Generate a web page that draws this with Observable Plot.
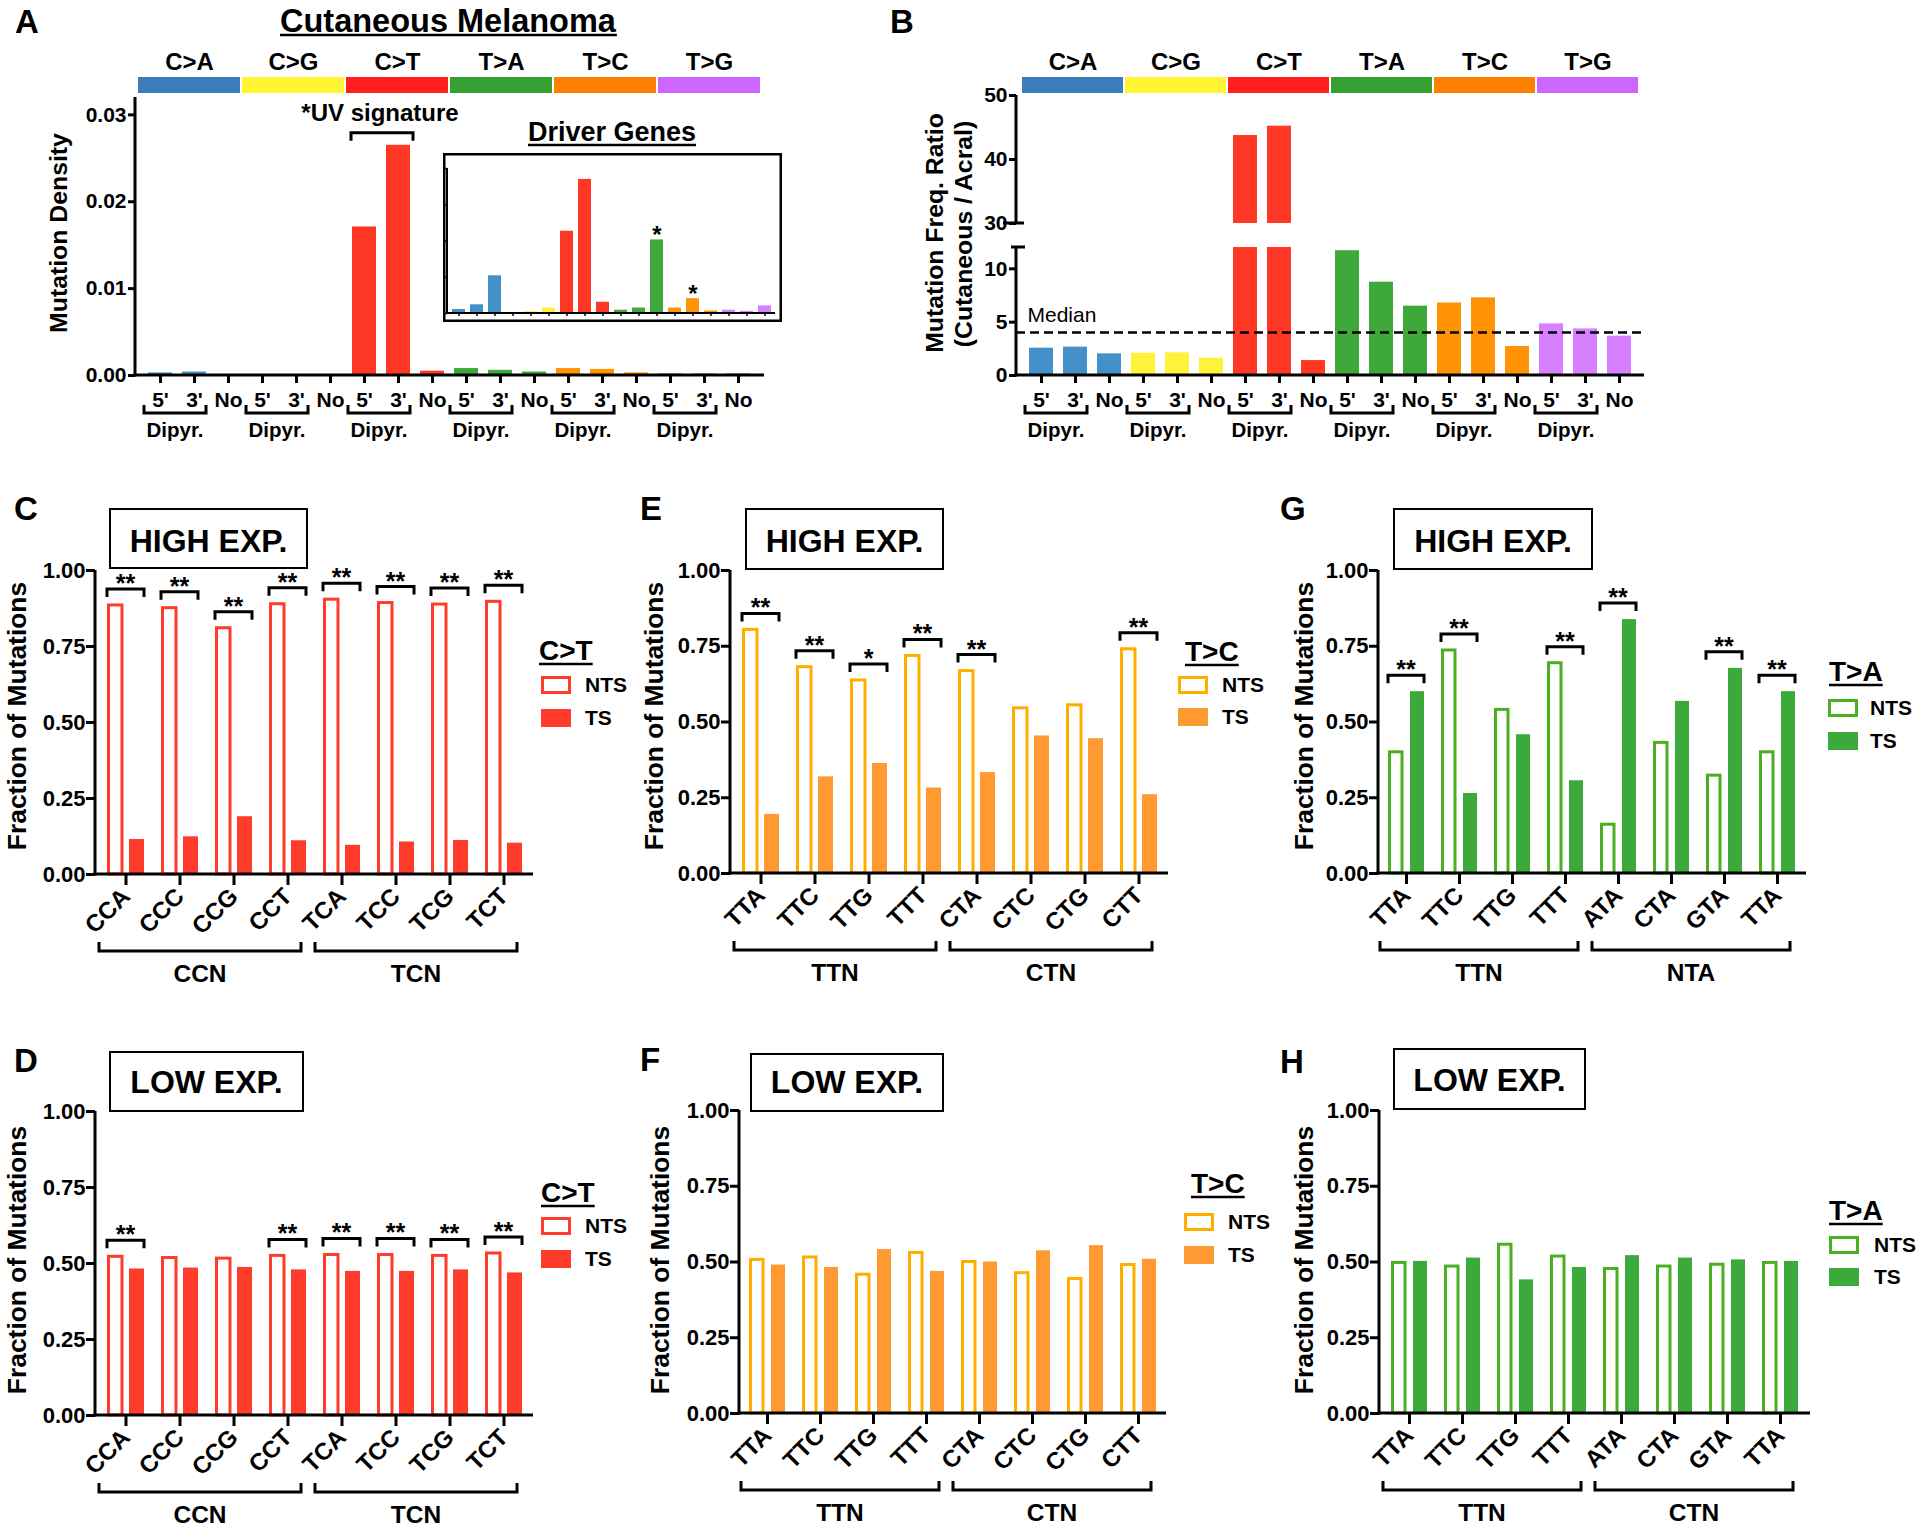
<!DOCTYPE html>
<html><head><meta charset="utf-8">
<script src="https://cdn.jsdelivr.net/npm/d3@7"></script>
<script src="https://cdn.jsdelivr.net/npm/@observablehq/plot@0.6"></script>
<style>
html,body{margin:0;padding:0;background:#fff;}
#fig{position:relative;width:1920px;height:1530px;overflow:hidden;background:#fff;}
</style></head><body><div id="fig"></div>
<script>
// ================= DATA =================
const mutTypes = ["C>A","C>G","C>T","T>A","T>C","T>G"];
const contexts = ["5'","3'","No"];
const bandColors = ["#3A7DB8","#FFF533","#FF1F1F","#36A032","#FF8000","#CC66FF"];
const barColors  = ["#4391C8","#FFF23A","#FF3826","#3EA83A","#FF9305","#D680FF"];
// Panel A: mutation density (5', 3', No for each type)
const densityA = [0.0003,0.0004,0.0001, 0.0001,0.0001,0.0001, 0.0171,0.0265,0.0005, 0.0008,0.0006,0.0004, 0.0008,0.0007,0.0003, 0.0002,0.0002,0.0002];
const densityTicks = [0, 0.01, 0.02, 0.03];
// Inset: driver genes (arbitrary units)
const driverA = [0.11,0.24,1.04, 0.0,0.05,0.15, 2.27,3.70,0.31, 0.09,0.15,2.03, 0.15,0.41,0.07, 0.09,0.06,0.21];
const driverSig = ["","","", "","","", "","","", "","","*", "","*","", "","",""];
const driverTicks = [0,1,2,3,4];
// Panel B: mutation freq ratio cutaneous/acral
const ratioB = [2.56,2.66,2.03, 2.09,2.12,1.62, 43.75,45.2,1.40, 11.7,8.75,6.5, 6.8,7.28,2.72, 4.84,4.37,3.69];
const ratioTicksLow = [0,5,10];
const ratioTicksHigh = [30,40,50];
const brkLow = 12, brkHigh = 30;

// Panels C-H
const fracTicks = [0,0.25,0.5,0.75,1];
const ctCats = ["CCA","CCC","CCG","CCT","TCA","TCC","TCG","TCT"];
const ctGroup = ["CCN","CCN","CCN","CCN","TCN","TCN","TCN","TCN"];
const tcCats = ["TTA","TTC","TTG","TTT","CTA","CTC","CTG","CTT"];
const tcGroup = ["TTN","TTN","TTN","TTN","CTN","CTN","CTN","CTN"];
const taCats = ["TTA","TTC","TTG","TTT","ATA","CTA","GTA","TTA"];
const taGroupG = ["TTN","TTN","TTN","TTN","NTA","NTA","NTA","NTA"];
const taGroupH = ["TTN","TTN","TTN","TTN","CTN","CTN","CTN","CTN"];

const ntsC = [0.885,0.876,0.810,0.889,0.904,0.893,0.888,0.897];
const tsC  = [0.115,0.124,0.190,0.111,0.096,0.107,0.112,0.103];
const sigC = ["**","**","**","**","**","**","**","**"];
const ntsD = [0.522,0.518,0.516,0.525,0.528,0.528,0.525,0.533];
const tsD  = [0.482,0.485,0.487,0.479,0.474,0.474,0.479,0.469];
const sigD = ["**","","","**","**","**","**","**"];
const ntsE = [0.804,0.681,0.637,0.718,0.668,0.545,0.555,0.740];
const tsE  = [0.195,0.319,0.363,0.282,0.333,0.454,0.445,0.260];
const sigE = ["**","**","*","**","**","","","**"];
const ntsF = [0.507,0.515,0.458,0.530,0.500,0.463,0.444,0.490];
const tsF  = [0.490,0.482,0.541,0.469,0.500,0.537,0.554,0.509];
const sigF = ["","","","","","","",""];
const ntsG = [0.400,0.736,0.540,0.694,0.161,0.431,0.323,0.400];
const tsG  = [0.600,0.264,0.458,0.306,0.838,0.568,0.677,0.600];
const sigG = ["**","**","","**","**","","**","**"];
const ntsH = [0.497,0.485,0.557,0.518,0.477,0.485,0.491,0.497];
const tsH  = [0.502,0.513,0.441,0.482,0.521,0.513,0.507,0.502];
const sigH = ["","","","","","","",""];

const ctCol = {nts:"#FF3B2B", ts:"#FF3B2B"};
const tcCol = {nts:"#FFAE00", ts:"#FF9A33"};
const taCol = {nts:"#4BB020", ts:"#3BAA3B"};

// ================= HELPERS =================
const FONT = '"Liberation Sans", Arial, Helvetica, sans-serif';
const fig = document.getElementById("fig");
const baseStyle = (size) => ({background:"transparent", overflow:"visible", fontFamily:FONT, fontSize:size+"px", fontWeight:"bold", color:"black", maxWidth:"none"});

function place(svg, left, top) {
  svg.style.position = "absolute";
  svg.style.left = left + "px";
  svg.style.top = top + "px";
  fig.appendChild(svg);
}
const deco = (fn) => (index, scales, values, dim) => { const g = d3.create("svg:g"); fn(g, scales, dim); return g.node(); };
function P(g, d, w = 3) { return g.append("path").attr("d", d).attr("fill","none").attr("stroke","black").attr("stroke-width", w); }
function T(g, s, x, y, size, anchor = "middle", weight = "bold") {
  return g.append("text").attr("x", x).attr("y", y).attr("font-size", size).attr("font-weight", weight)
    .attr("text-anchor", anchor).attr("fill","black").text(s);
}

// ================= PANEL A / B rows =================
const rowsA = mutTypes.flatMap((t, ti) => contexts.map((c, ci) => {
  const k = ti*3 + ci;
  return {id:k, type:t, ctx:c, v:densityA[k], drv:driverA[k], drvSig:driverSig[k], r:ratioB[k], color:barColors[ti]};
}));
const ids18 = rowsA.map(d => d.id);

function dipyr(g, x, y0) {
  const bw = x.bandwidth();
  mutTypes.forEach((t, ti) => {
    const a = x(ti*3) - 4, b = x(ti*3+1) + bw;
    P(g, `M${a},${y0+30}V${y0+38}H${b}V${y0+30}`);
    T(g, "Dipyr.", (a+b)/2, y0+62, 20.5);
  });
}

function bandPlot(left, width, mL, mR) {
  const bands = mutTypes.map((t, i) => ({t, c: bandColors[i]}));
  const svg = Plot.plot({
    width, height:53, marginLeft:mL, marginRight:mR, marginTop:37, marginBottom:0,
    style: baseStyle(24),
    x: {type:"band", domain: mutTypes, paddingInner:0.015, paddingOuter:0.03, axis:null},
    color: {type:"identity"},
    marks: [
      Plot.cell(bands, {x:"t", fill:"c"}),
      Plot.text(bands, {x:"t", text:"t", frameAnchor:"top", lineAnchor:"bottom", dy:-8})
    ]
  });
  place(svg, left, 40);
}

// ---- Panel A main ----
const svgA = Plot.plot({
  width:800, height:450, marginLeft:135, marginRight:36, marginTop:97, marginBottom:75,
  style: baseStyle(21),
  x: {type:"band", domain: ids18, paddingInner:0.28, paddingOuter:0.14, label:null},
  y: {domain:[0, 0.032], label:null},
  color: {type:"identity"},
  marks: [
    Plot.barY(rowsA, {x:"id", y:"v", fill:"color"}),
    Plot.axisY(densityTicks, {tickFormat: d3.format(".2f"), tickSize:7, tickPadding:2, strokeWidth:3, label:null}),
    Plot.axisX({tickFormat: i => contexts[i % 3], tickSize:8, tickPadding:9, strokeWidth:3, label:null}),
    deco((g, {x, y}, d) => {
      const y0 = y(0), L = d.marginLeft, R = d.width - d.marginRight, bw = x.bandwidth();
      P(g, `M${L},${y(y.domain()[1])}V${y0+1.5}`);
      P(g, `M${L-1.5},${y0}H${R}`);
      dipyr(g, x, y0);
      const uv = rowsA.filter(r => r.type === "C>T" && r.ctx !== "No");
      const a = x(uv[0].id) - 1, b = x(uv[1].id) + bw + 3, yb = y(d3.max(uv, r => r.v)) - 12;
      P(g, `M${a},${yb+8}V${yb}H${b}V${yb+8}`);
      T(g, "*UV signature", (a+b)/2 - 2, yb-12, 24);
    })
  ]
});
place(svgA, 0, 0);
bandPlot(0, 800, 135, 36);

// ---- Inset: Driver genes ----
const svgIn = Plot.plot({
  width:339, height:169, marginLeft:4, marginRight:7, marginTop:15, marginBottom:9,
  style: baseStyle(20),
  x: {type:"band", domain: ids18, paddingInner:0.29, paddingOuter:0.145, label:null},
  y: {domain:[0, 4], label:null},
  color: {type:"identity"},
  marks: [
    deco((g, s, d) => { g.append("rect").attr("x",1.25).attr("y",1.25).attr("width",d.width-2.5).attr("height",d.height-2.5).attr("fill","white").attr("stroke","black").attr("stroke-width",2.5); }),
    Plot.barY(rowsA, {x:"id", y:"drv", fill:"color"}),
    Plot.text(rowsA.filter(r => r.drvSig), {x:"id", y:"drv", text:"drvSig", lineAnchor:"bottom", dy:3, fontSize:24}),
    Plot.axisY(driverTicks, {tickFormat: () => "", tickSize:3, strokeWidth:1.5, label:null}),
    Plot.axisX({tickFormat: () => "", tickSize:3, strokeWidth:1.5, label:null}),
    deco((g, {x, y}, d) => {
      const y0 = y(0), L = d.marginLeft, R = d.width - d.marginRight;
      P(g, `M${L},${y(y.domain()[1])}V${y0+1}`, 2);
      P(g, `M${L-1},${y0}H${R}`, 2);
    })
  ]
});
place(svgIn, 443, 153);

// ---- Panel B ----
const medianB = d3.median(ratioB);
const svgBu = Plot.plot({
  width:780, height:150, marginLeft:136, marginRight:16, marginTop:15, marginBottom:7,
  style: baseStyle(21),
  x: {type:"band", domain: ids18, paddingInner:0.28, paddingOuter:0.14, axis:null},
  y: {domain:[brkHigh, 50], label:null},
  color: {type:"identity"},
  marks: [
    Plot.barY(rowsA.filter(d => d.r > brkHigh), {x:"id", y1:brkHigh, y2:"r", fill:"color"}),
    Plot.axisY(ratioTicksHigh, {tickSize:7, tickPadding:2, strokeWidth:3, label:null}),
    deco((g, {x, y}, d) => {
      const L = d.marginLeft;
      P(g, `M${L},${y(y.domain()[1])}V${y(brkHigh)}`);
      P(g, `M${L-13},${y(brkHigh)}H${L+8}`);
    })
  ]
});
place(svgBu, 880, 80);

const svgB = Plot.plot({
  width:780, height:230, marginLeft:136, marginRight:16, marginTop:17, marginBottom:85,
  style: baseStyle(21),
  x: {type:"band", domain: ids18, paddingInner:0.28, paddingOuter:0.14, label:null},
  y: {domain:[0, brkLow], label:null},
  color: {type:"identity"},
  marks: [
    Plot.barY(rowsA, {x:"id", y: d => Math.min(d.r, brkLow), fill:"color"}),
    Plot.ruleY([medianB], {stroke:"black", strokeWidth:2.5, strokeDasharray:"9,5"}),
    Plot.text([medianB], {y: d => d, text: () => "Median", frameAnchor:"left", textAnchor:"start", lineAnchor:"bottom", dx:11, dy:-11, fontSize:21, fontWeight:"normal"}),
    Plot.axisY(ratioTicksLow, {tickSize:7, tickPadding:2, strokeWidth:3, label:null}),
    Plot.axisX({tickFormat: i => contexts[i % 3], tickSize:8, tickPadding:9, strokeWidth:3, label:null}),
    deco((g, {x, y}, d) => {
      const y0 = y(0), L = d.marginLeft, R = d.width - d.marginRight;
      P(g, `M${L},${y(brkLow)}V${y0+1.5}`);
      P(g, `M${L-5},${y(brkLow)}H${L+9}`);
      P(g, `M${L-1.5},${y0}H${R}`);
      dipyr(g, x, y0);
    })
  ]
});
place(svgB, 880, 230);
bandPlot(880, 780, 136, 16);

// ---- Panels C-H ----
function strandPlot(cfg) {
  const {cats, group, nts, ts, sig, col, left, top, width, height, mL, mR, mT, mB} = cfg;
  const rows = cats.map((c, i) => ({id:i, cat:c, grp:group[i], nts:nts[i], ts:ts[i], sig:sig[i]}));
  const svg = Plot.plot({
    width, height, marginLeft:mL, marginRight:mR, marginTop:mT, marginBottom:mB,
    style: baseStyle(22),
    x: {type:"band", domain: rows.map(d => d.id), paddingInner:0.32, paddingOuter:0.16, label:null},
    y: {domain:[0, 1], label:null},
    marks: [
      Plot.barY(rows, {x:"id", y:"ts", fill: col.ts, insetLeft:22}),
      Plot.barY(rows, {x:"id", y:"nts", fill:"white", stroke: col.nts, strokeWidth:3, insetLeft:1.5, insetRight:22}),
      Plot.axisY(fracTicks, {tickFormat: d3.format(".2f"), tickSize:9, tickPadding:1, strokeWidth:3, label:null}),
      Plot.axisX({tickFormat: i => cats[i], tickRotate:-45, tickSize:11, tickPadding:7, fontSize:24, strokeWidth:3, label:null}),
      deco((g, {x, y}, d) => {
        const bw = x.bandwidth(), y0 = y(0), L = d.marginLeft, R = d.width - d.marginRight;
        P(g, `M${L},${y(1)}V${y0+1.5}`);
        P(g, `M${L-1.5},${y0}H${R}`);
        rows.filter(r => r.sig).forEach(r => {
          const a = x(r.id), b = a + bw, yb = y(Math.max(r.nts, r.ts)) - 16;
          P(g, `M${a},${yb+8}V${yb}H${b}V${yb+8}`);
          T(g, r.sig, (a+b)/2, yb+3, 25);
        });
        d3.groups(rows, r => r.grp).forEach(([name, rs]) => {
          const a = x(rs[0].id) - 8, b = x(rs[rs.length-1].id) + bw - 5, yb = y0 + 77;
          P(g, `M${a},${yb-9}V${yb}H${b}V${yb-9}`);
          T(g, name, (a+b)/2, y0+108, 24.5);
        });
      })
    ]
  });
  place(svg, left, top);
}
strandPlot({cats:ctCats, group:ctGroup, nts:ntsC, ts:tsC, sig:sigC, col:ctCol, left:0,    top:560,  width:640, height:440, mL:95, mR:107, mT:10, mB:126});
strandPlot({cats:ctCats, group:ctGroup, nts:ntsD, ts:tsD, sig:sigD, col:ctCol, left:0,    top:1100, width:640, height:430, mL:95, mR:107, mT:11, mB:115});
strandPlot({cats:tcCats, group:tcGroup, nts:ntsE, ts:tsE, sig:sigE, col:tcCol, left:640,  top:560,  width:640, height:440, mL:90, mR:112, mT:10, mB:127});
strandPlot({cats:tcCats, group:tcGroup, nts:ntsF, ts:tsF, sig:sigF, col:tcCol, left:640,  top:1100, width:640, height:430, mL:99, mR:114, mT:10, mB:117});
strandPlot({cats:taCats, group:taGroupG, nts:ntsG, ts:tsG, sig:sigG, col:taCol, left:1280, top:560,  width:640, height:440, mL:98, mR:114, mT:10, mB:127});
strandPlot({cats:taCats, group:taGroupH, nts:ntsH, ts:tsH, sig:sigH, col:taCol, left:1280, top:1100, width:640, height:430, mL:99, mR:110, mT:10, mB:117});

// ================= OVERLAY TEXT (titles, labels, legends) =================
const ov = d3.select(fig).append("svg").attr("width",1920).attr("height",1530)
  .style("position","absolute").style("left","0px").style("top","0px").style("font-family",FONT);
function OT(s, x, y, size, anchor = "start", weight = "bold") {
  return ov.append("text").attr("x",x).attr("y",y).attr("font-size",size).attr("font-weight",weight)
    .attr("text-anchor",anchor).attr("fill","black").text(s);
}
function UL(t, dy, w) {
  const bb = t.node().getBBox(), y = +t.attr("y") + dy;
  ov.append("line").attr("x1",bb.x).attr("x2",bb.x+bb.width).attr("y1",y).attr("y2",y).attr("stroke","black").attr("stroke-width",w);
}
function RT(s, bx, cy, size) {
  ov.append("text").attr("transform",`translate(${bx},${cy}) rotate(-90)`)
    .attr("text-anchor","middle").attr("font-size",size).attr("font-weight","bold").attr("fill","black").text(s);
}
function BOX(s, x1, y1, x2, y2, base) {
  ov.append("rect").attr("x",x1).attr("y",y1).attr("width",x2-x1).attr("height",y2-y1)
    .attr("fill","none").attr("stroke","black").attr("stroke-width",2);
  OT(s, (x1+x2)/2, base, 32, "middle");
}
function LEG(title, col, tx, tb, sx, nY, tY, lx) {
  const t = OT(title, tx, tb, 28);
  UL(t, 4, 2.5);
  ov.append("rect").attr("x",sx+1.5).attr("y",nY+1.5).attr("width",27).attr("height",15)
    .attr("fill","white").attr("stroke",col.nts).attr("stroke-width",3);
  ov.append("rect").attr("x",sx).attr("y",tY).attr("width",30).attr("height",18).attr("fill",col.ts);
  OT("NTS", lx, nY+16, 21);
  OT("TS", lx, tY+16, 21);
}

// panel letters
OT("A", 15, 33, 33); OT("B", 890, 33, 33);
OT("C", 14, 520, 33); OT("E", 640, 520, 33); OT("G", 1280, 520, 33);
OT("D", 14, 1072, 33); OT("F", 640, 1071, 33); OT("H", 1280, 1073, 33);
// titles
UL(OT("Cutaneous Melanoma", 448, 32, 32.5, "middle"), 3, 2.5);
UL(OT("Driver Genes", 612, 141, 27, "middle"), 4, 2.5);
// y titles
RT("Mutation Density", 67, 233, 24.8);
RT("Mutation Freq. Ratio", 943, 233, 24.8);
RT("(Cutaneous / Acral)", 972, 234, 24.8);
RT("Fraction of Mutations", 26, 716, 26.4);
RT("Fraction of Mutations", 663, 716, 26.4);
RT("Fraction of Mutations", 1313, 716, 26.4);
RT("Fraction of Mutations", 26, 1260, 26.4);
RT("Fraction of Mutations", 669, 1260, 26.4);
RT("Fraction of Mutations", 1313, 1260, 26.4);
// expression boxes
BOX("HIGH EXP.", 110, 509, 307, 568, 552);
BOX("HIGH EXP.", 746, 509, 943, 569, 552);
BOX("HIGH EXP.", 1394, 509, 1592, 569, 552);
BOX("LOW EXP.", 110, 1052, 303, 1111, 1093);
BOX("LOW EXP.", 751, 1054, 943, 1111, 1093);
BOX("LOW EXP.", 1394, 1049, 1585, 1109, 1091);
// legends
LEG("C>T", ctCol, 539, 660, 541, 676, 709, 585);
LEG("T>C", tcCol, 1185, 661, 1178, 676, 708, 1222);
LEG("T>A", taCol, 1829, 681, 1828, 699, 732, 1870);
LEG("C>T", ctCol, 541, 1202, 541, 1217, 1250, 585);
LEG("T>C", tcCol, 1191, 1193, 1184, 1213, 1246, 1228);
LEG("T>A", taCol, 1829, 1220, 1829, 1236, 1268, 1874);
</script></body></html>
